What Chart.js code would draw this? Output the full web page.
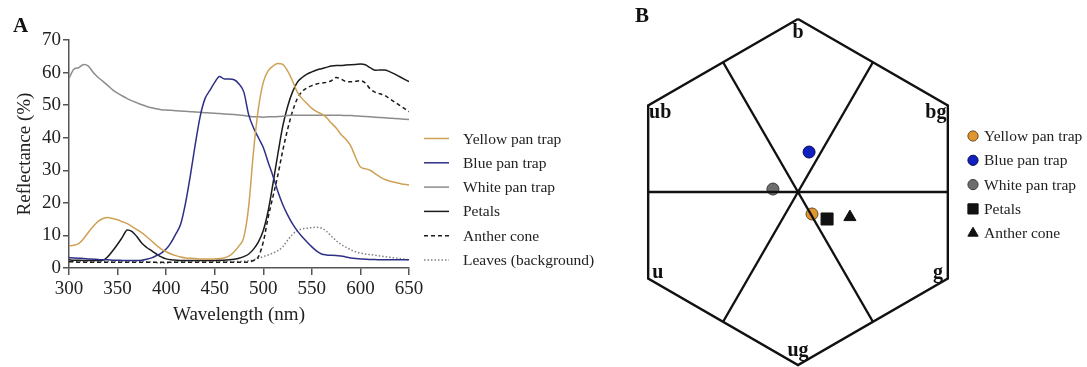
<!DOCTYPE html>
<html>
<head>
<meta charset="utf-8">
<script src="https://cdn.jsdelivr.net/npm/chart.js@4.4.0/dist/chart.umd.min.js"></script>
<style>
body { margin: 0; background: #fff; width: 1087px; height: 367px; overflow: hidden; position: relative; }
canvas { position: absolute; top: 0; }
#spectra { left: 0; }
#hexagon { left: 620px; }
</style>
</head>
<body>
<canvas id="spectra" width="620" height="367"></canvas>
<canvas id="hexagon" width="467" height="367"></canvas>
<script>
var SERIF = '"Liberation Serif", "Times New Roman", serif';

// ---- panel A : reflectance spectra (values read every 5 nm) ----
var wavelengths = [300,305,310,315,320,325,330,335,340,345,350,355,360,365,370,375,380,385,390,395,
  400,405,410,415,420,425,430,435,440,445,450,455,460,465,470,475,480,485,490,495,
  500,505,510,515,520,525,530,535,540,545,550,555,560,565,570,575,580,585,590,595,
  600,605,610,615,620,625,630,635,640,645,650];

var yellowTrap = [6.8,7.0,7.5,9.0,11.0,12.8,14.3,15.2,15.5,15.2,14.8,14.2,13.6,12.7,11.8,10.8,9.6,8.3,7.0,5.8,
  5.0,4.3,3.8,3.4,3.1,3.0,2.9,2.8,2.8,2.8,2.8,2.9,3.1,3.7,5.0,6.8,9.5,19,36,49,
  57,60.5,62,62.8,62.5,60.5,57.5,54,52,50.5,49,48,47.3,46.2,44.5,43,41,39.5,37.5,34,
  31,30.5,30,29,28,27.2,26.7,26.3,26,25.7,25.5];

var blueTrap = [3.2,3.1,3.0,2.9,2.8,2.7,2.6,2.5,2.5,2.4,2.4,2.3,2.3,2.3,2.3,2.4,2.7,3.1,3.8,4.6,
  5.8,7.8,10.5,13.5,20,28.5,38,46.5,52,54.5,57,58.8,58,58,57.8,56.5,54,47,43,40,
  37,32.5,28.2,23.5,19.5,16.3,13.6,11.4,9.6,8.0,6.5,5.2,4.3,4.0,3.9,3.8,3.7,3.4,3.1,2.9,
  2.8,2.7,2.6,2.6,2.5,2.5,2.5,2.5,2.5,2.5,2.5];

var whiteTrap = [58.2,61,61.5,62.5,62,60,58.5,57.3,56,54.7,53.7,52.8,52,51.3,50.7,50.1,49.6,49.2,48.9,48.6,
  48.5,48.4,48.3,48.2,48.1,48,47.9,47.8,47.7,47.6,47.5,47.4,47.3,47.2,47.1,47,46.8,46.6,46.4,46.4,
  46.3,46.4,46.4,46.5,46.6,46.8,46.9,46.9,46.9,46.9,46.9,46.9,46.9,46.9,46.9,46.9,46.9,46.8,46.8,46.7,
  46.6,46.5,46.4,46.3,46.2,46.1,46,45.9,45.8,45.7,45.6];

var petals = [2.5,2.4,2.4,2.3,2.3,2.3,2.3,2.4,3.5,5.3,7.3,9.5,11.7,11.2,9.6,7.6,6.3,5.3,4.3,3.4,
  2.8,2.5,2.4,2.3,2.3,2.3,2.3,2.3,2.3,2.3,2.3,2.4,2.4,2.5,2.7,3.0,3.5,4.3,5.8,8.0,
  11.5,17.5,26,35,43.5,49.5,54,57,58.5,59.5,60.2,60.8,61.2,61.6,62,62.2,62.2,62.3,62.4,62.5,
  62.6,62.4,61.5,60.7,60.8,60.8,60.3,59.6,58.8,58,57.2];

var antherCone = [1.9,1.9,1.8,1.8,1.8,1.8,1.8,1.8,1.8,1.8,1.8,1.8,1.8,1.8,1.8,1.8,1.8,1.8,1.8,1.8,
  1.8,1.8,1.8,1.8,1.8,1.8,1.8,1.8,1.8,1.8,1.8,1.8,1.8,1.8,1.8,1.8,1.8,1.9,2.3,3.5,
  8,15.5,22,28.5,36,42.5,48,52,54.2,55.3,56,56.5,56.8,57,57.5,58.5,58,57.3,57.2,57.3,
  57.5,56.8,55,54,53.5,53,52,51,50,49,48];

var leaves = [2.0,2.0,2.0,2.0,2.0,2.0,2.0,2.0,2.0,2.0,2.0,2.0,2.0,2.0,2.0,2.0,1.9,1.8,1.6,1.5,
  1.5,1.7,1.9,2.0,2.0,2.0,2.0,2.0,2.0,2.0,2.0,2.0,2.0,2.0,2.0,2.0,2.1,2.2,2.5,3.0,
  3.5,4.0,4.6,5.3,6.5,8.5,10.3,11.5,12,12.2,12.4,12.5,12.2,11.3,9.8,8.4,7.3,6.4,5.6,5.0,
  4.6,4.3,4.1,3.9,3.7,3.5,3.3,3.1,2.9,2.7,2.5];

var xTicks = [300, 650, 50];   // min, max, step
var yTicks = [0, 70, 10];

function spectrum(label, values, color, dash) {
  return {
    label: label,
    data: values,
    borderColor: color,
    borderDash: dash || [],
    borderWidth: 1.5,
    pointRadius: 0,
    fill: false,
    cubicInterpolationMode: 'monotone'
  };
}

var spectraLegend = {
  id: 'spectraLegend',
  afterDraw: function (chart) {
    var ctx = chart.ctx;
    ctx.save();
    ctx.font = '15.5px ' + SERIF;
    ctx.textBaseline = 'middle';
    chart.data.datasets.forEach(function (ds, i) {
      var y = 138.5 + i * 24.3;
      ctx.strokeStyle = ds.borderColor;
      ctx.lineWidth = ds.borderWidth;
      ctx.setLineDash(ds.borderDash);
      ctx.beginPath();
      ctx.moveTo(424, y);
      ctx.lineTo(449, y);
      ctx.stroke();
      ctx.setLineDash([]);
      ctx.fillStyle = '#222';
      ctx.fillText(ds.label, 463, y + 1);
    });
    ctx.font = 'bold 21px ' + SERIF;
    ctx.textBaseline = 'alphabetic';
    ctx.fillStyle = '#111';
    ctx.fillText('A', 13, 32);
    ctx.restore();
  }
};

new Chart(document.getElementById('spectra').getContext('2d'), {
  type: 'line',
  data: {
    labels: wavelengths,
    datasets: [
      spectrum('Yellow pan trap', yellowTrap, '#cfa154'),
      spectrum('Blue pan trap', blueTrap, '#2e2f86'),
      spectrum('White pan trap', whiteTrap, '#8c8c8c'),
      spectrum('Petals', petals, '#1b1b1b'),
      spectrum('Anther cone', antherCone, '#1b1b1b', [4, 3]),
      spectrum('Leaves (background)', leaves, '#808080', [1.5, 2])
    ]
  },
  options: {
    responsive: false,
    animation: false,
    layout: { autoPadding: false, padding: { top: 40, right: 211, left: 0, bottom: 0 } },
    plugins: { legend: { display: false }, tooltip: { enabled: false } },
    scales: {
      x: {
        type: 'linear',
        min: xTicks[0], max: xTicks[1],
        ticks: { stepSize: xTicks[2], color: '#222', padding: 3, font: { family: SERIF, size: 19 } },
        grid: { drawOnChartArea: false, tickLength: 7, color: '#555', lineWidth: 1.5 },
        border: { color: '#555', width: 1.5 },
        title: { display: true, text: 'Wavelength (nm)', color: '#222', font: { family: SERIF, size: 19 }, padding: { top: 0, bottom: 41 } },
        afterFit: function (s) { s.height = 99; }
      },
      y: {
        min: yTicks[0], max: yTicks[1],
        ticks: { stepSize: yTicks[2], color: '#222', padding: 2, font: { family: SERIF, size: 19 } },
        grid: { drawOnChartArea: false, tickLength: 6, color: '#555', lineWidth: 1.5 },
        border: { color: '#555', width: 1.5 },
        title: { display: true, text: 'Reflectance (%)', color: '#222', font: { family: SERIF, size: 19 }, padding: { top: 14, bottom: 0 } },
        afterFit: function (s) { s.width = 69; }
      }
    }
  },
  plugins: [spectraLegend]
});

// ---- panel B : colour hexagon ----
var cornerNames = ['b', 'ub', 'u', 'ug', 'g', 'bg'];
var cornerAngles = [90, 150, 210, 270, 330, 30];
var spokeAngles = [0, 60, 120];

var targetNames = ['Yellow pan trap', 'Blue pan trap', 'White pan trap', 'Petals', 'Anther cone'];
var targetX = [0.081, 0.064, -0.145, 0.168, 0.300];
var targetY = [-0.127, 0.231, 0.017, -0.156, -0.145];
var targetFill = ['#e0962f', '#1020c0', '#6d6d6d', '#111', '#111'];
var targetEdge = ['#6a4a1a', '#0a0a4a', '#3a3a3a', '#111', '#111'];
var targetShape = ['circle', 'circle', 'circle', 'rect', 'triangle'];

var HEX_CX = 178, HEX_CY = 192, HEX_UNIT = 173; // canvas px of hexagon centre, px per unit
var rad = Math.PI / 180;

function frame(points) {
  return { type: 'line', data: points, showLine: true, borderColor: '#111', borderWidth: 2.4,
    pointRadius: 0, fill: false, hideInLegend: true };
}

var outline = cornerAngles.concat([cornerAngles[0]]).map(function (a) {
  return { x: Math.cos(a * rad), y: Math.sin(a * rad) };
});
var hexDatasets = [frame(outline)];
spokeAngles.forEach(function (a) {
  var r = Math.cos(30 * rad);
  hexDatasets.push(frame([
    { x: r * Math.cos(a * rad), y: r * Math.sin(a * rad) },
    { x: r * Math.cos((a + 180) * rad), y: r * Math.sin((a + 180) * rad) }
  ]));
});
var markerSize = { circle: 6, rect: 8.5, triangle: 7 };
targetNames.forEach(function (name, i) {
  hexDatasets.push({
    label: name,
    data: [{ x: targetX[i], y: targetY[i] }],
    pointStyle: targetShape[i],
    pointRadius: markerSize[targetShape[i]],
    backgroundColor: targetFill[i],
    borderColor: targetEdge[i],
    borderWidth: 1
  });
});

var hexDecor = {
  id: 'hexDecor',
  afterDatasetsDraw: function (chart) {
    var ctx = chart.ctx, sx = chart.scales.x, sy = chart.scales.y;
    ctx.save();
    ctx.font = 'bold 20px ' + SERIF;
    ctx.fillStyle = '#111';
    ctx.textAlign = 'center';
    ctx.textBaseline = 'middle';
    cornerNames.forEach(function (n, i) {
      var a = cornerAngles[i] * rad;
      var r = n.length === 1 && n !== 'b' ? 0.935 : 0.92;   // single letters sit a little closer to the corner
      ctx.fillText(n, sx.getPixelForValue(r * Math.cos(a)), sy.getPixelForValue(r * Math.sin(a)));
    });
    // legend
    ctx.textAlign = 'left';
    ctx.font = '15.5px ' + SERIF;
    var k = 0;
    chart.data.datasets.forEach(function (ds) {
      if (ds.hideInLegend) return;
      var y = 136 + k * 24.3;
      ctx.fillStyle = ds.backgroundColor;
      ctx.strokeStyle = ds.borderColor;
      ctx.lineWidth = 1;
      Chart.helpers.drawPoint(ctx, { pointStyle: ds.pointStyle, radius: ds.pointRadius * 0.85, rotation: 0, borderWidth: 1 }, 353, y);
      ctx.fillStyle = '#222';
      ctx.fillText(ds.label, 364, y + 1);
      k++;
    });
    ctx.font = 'bold 21px ' + SERIF;
    ctx.textBaseline = 'alphabetic';
    ctx.fillStyle = '#111';
    ctx.fillText('B', 15, 22);
    ctx.restore();
  }
};

var hexCanvas = document.getElementById('hexagon');
new Chart(hexCanvas.getContext('2d'), {
  type: 'scatter',
  data: { datasets: hexDatasets },
  options: {
    responsive: false,
    animation: false,
    layout: { autoPadding: false, padding: 0 },
    plugins: { legend: { display: false }, tooltip: { enabled: false } },
    scales: {
      x: { display: false, min: -HEX_CX / HEX_UNIT, max: (hexCanvas.width - HEX_CX) / HEX_UNIT },
      y: { display: false, min: -(hexCanvas.height - HEX_CY) / HEX_UNIT, max: HEX_CY / HEX_UNIT }
    }
  },
  plugins: [hexDecor]
});
</script>
</body>
</html>
